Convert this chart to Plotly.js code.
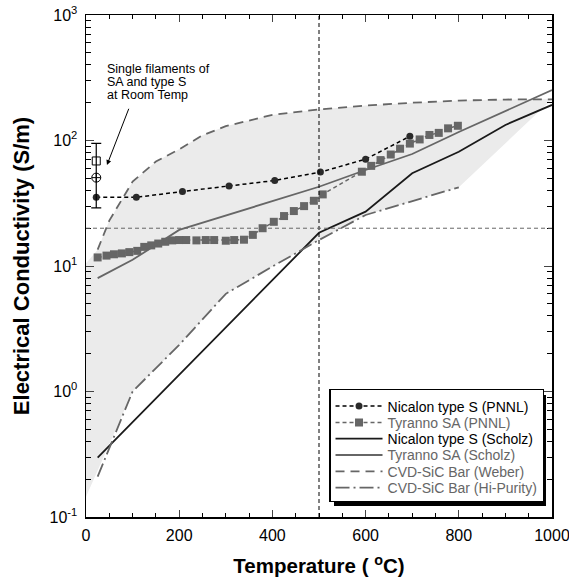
<!DOCTYPE html>
<html><head><meta charset="utf-8">
<script src="https://cdn.plot.ly/plotly-3.0.1.min.js"></script>
<style>html,body{margin:0;padding:0;background:#fff}</style>
</head><body><div id="chart" style="width:569px;height:580px"></div>
<script>
// ---- data (temperature in degC, conductivity in S/m) ----
const T_NIC_PNNL = [22, 108, 207, 307, 405, 503, 600, 695];
const S_NIC_PNNL = [35.3, 35.3, 39.2, 43.4, 48, 56, 71, 108];

const T_TYR_PNNL = [25, 44, 60, 77, 93, 110, 125, 140, 155, 170, 185, 200, 215, 237, 257, 275, 300, 318, 339, 358,
                    379, 403, 425, 446, 468, 489, 508, 592, 612, 632, 654, 674, 695, 716, 737, 757, 777, 798];
const S_TYR_PNNL = [11.7, 12.1, 12.4, 12.6, 12.9, 13.2, 14.2, 14.6, 15.1, 15.6, 16.0, 16.1, 16.1, 16.0, 16.1, 16.1, 15.9, 16.1, 16.2, 17.7,
                    20.0, 22.5, 25.0, 27.4, 30.0, 33.1, 37.2, 56.4, 62.8, 69.8, 77.3, 86, 94.5, 102, 110.7, 115, 125, 131];

const T_NIC_SCH = [25, 500, 600, 700, 800, 900, 1000];
const S_NIC_SCH = [0.297, 18.4, 27.1, 54.8, 81.4, 133, 192];

const T_TYR_SCH = [25, 100, 200, 300, 400, 500, 600, 700, 800, 900, 1000];
const S_TYR_SCH = [8.0, 11.2, 19.4, 25.3, 33, 42.8, 58.2, 78, 117, 172, 252];

const T_WEBER = [25, 50, 100, 150, 200, 250, 300, 400, 500, 600, 700, 800, 900, 1000];
const S_WEBER = [13.5, 23, 47, 68, 85, 110, 130, 160, 177, 190, 200, 208, 212, 213];

const T_HIPUR = [25, 100, 200, 300, 400, 500, 600, 800];
const S_HIPUR = [0.21, 1.0, 2.35, 6.0, 9.9, 16.1, 25.5, 42.4];

// shaded band: left edge at T=0 (bottom, top)
const SHADE_EDGE_T = [0, 0];
const SHADE_EDGE_S = [0.145, 10.5];

// single filaments at room temperature
const SF_T = [22, 22];
const SF_S = [68.7, 50.6];           // open square (SA), crossed circle (type S)
const SF_ERR_TOP = 95, SF_ERR_BOT = 29;

const NOTE_LINES = ['Single filaments of', 'SA and type S', 'at Room Temp'];
const NOTE_T = 41;
const NOTE_S = [372, 292, 231];
const ARROW_HEAD = [45, 63.8];     // [T, S]
const ARROW_TAIL = [93, 184];      // [T, S]

const REF_T = 500, REF_S = 20;

const X_TICKS = [0, 200, 400, 600, 800, 1000];
const Y_TICKVALS = [0.1, 1, 10, 100, 1000];
const Y_TICKTEXT = ['10<sup>-1</sup>', '10<sup>0</sup>', '10<sup>1</sup>', '10<sup>2</sup>', '10<sup>3</sup>'];

// ---- build ----
const GRAY = '#666666';
const FONT = 'Liberation Sans, Arial, sans-serif';

const shadeT = [SHADE_EDGE_T[0]].concat(T_HIPUR.slice(1), T_WEBER.slice().reverse(), [SHADE_EDGE_T[1]]);
const shadeS = [SHADE_EDGE_S[0]].concat(S_HIPUR.slice(1), S_WEBER.slice().reverse(), [SHADE_EDGE_S[1]]);

const gspan = s => '<span style="color:' + GRAY + '">' + s + '</span>';

const traces = [
  {x: shadeT, y: shadeS, mode: 'lines', fill: 'toself', fillcolor: '#ebebeb',
   line: {width: 0, color: 'rgba(0,0,0,0)'}, showlegend: false, hoverinfo: 'skip'},
  {x: T_NIC_PNNL, y: S_NIC_PNNL, name: 'Nicalon type S (PNNL)', mode: 'lines+markers',
   line: {color: '#000', dash: '4px,3px', width: 1.5},
   marker: {symbol: 'circle', size: 7, color: '#2a2a2a'}},
  {x: T_TYR_PNNL, y: S_TYR_PNNL, name: gspan('Tyranno SA (PNNL)'), mode: 'lines+markers',
   line: {color: GRAY, dash: '4px,3px', width: 1.5},
   marker: {symbol: 'square', size: 8, color: GRAY}},
  {x: T_NIC_SCH, y: S_NIC_SCH, name: 'Nicalon type S (Scholz)', mode: 'lines',
   line: {color: '#1a1a1a', width: 1.8}},
  {x: T_TYR_SCH, y: S_TYR_SCH, name: gspan('Tyranno SA (Scholz)'), mode: 'lines',
   line: {color: GRAY, width: 1.8}},
  {x: T_WEBER, y: S_WEBER, name: gspan('CVD-SiC Bar (Weber)'), mode: 'lines',
   line: {color: GRAY, width: 1.8, dash: '9px,6px'}},
  {x: T_HIPUR, y: S_HIPUR, name: gspan('CVD-SiC Bar (Hi-Purity)'), mode: 'lines',
   line: {color: GRAY, width: 1.8, dash: '14px,4px,2px,4px'}},
  {x: [SF_T[0]], y: [SF_S[0]], mode: 'markers', showlegend: false,
   marker: {symbol: 'square-open', size: 8, color: '#000', line: {width: 1}}},
  {x: [SF_T[1]], y: [SF_S[1]], mode: 'markers', showlegend: false,
   marker: {symbol: 'circle-cross-open', size: 9, color: '#000', line: {width: 1}},
   error_y: {type: 'data', symmetric: false, array: [SF_ERR_TOP - SF_S[1]], arrayminus: [SF_S[1] - SF_ERR_BOT],
             color: '#000', thickness: 1.2, width: 5}}
];

const annotations = NOTE_LINES.map((t, i) => ({
  x: NOTE_T, y: Math.log10(NOTE_S[i]), xref: 'x', yref: 'y', text: t, showarrow: false,
  xanchor: 'left', yanchor: 'middle', font: {family: FONT, size: 12.5, color: '#000'}
}));
annotations.push({x: ARROW_HEAD[0], y: Math.log10(ARROW_HEAD[1]), xref: 'x', yref: 'y',
  ax: ARROW_TAIL[0], ay: Math.log10(ARROW_TAIL[1]), axref: 'x', ayref: 'y',
  text: '', showarrow: true, arrowhead: 2, arrowsize: 1, arrowwidth: 1, arrowcolor: '#000'});

const layout = {
  width: 569, height: 580,
  margin: {l: 86, r: 17, t: 15, b: 63},
  paper_bgcolor: '#fff', plot_bgcolor: '#fff',
  font: {family: FONT, size: 16, color: '#000'},
  showlegend: true,
  legend: {x: 0.5215, y: 0.255, xanchor: 'left', yanchor: 'top', bgcolor: '#fff',
           bordercolor: '#000', borderwidth: 1.5, font: {family: FONT, size: 14, color: '#000'},
           itemwidth: 47, tracegroupgap: 0},
  xaxis: {range: [0, 1000], tickvals: X_TICKS, ticks: 'inside', ticklen: 7, tickwidth: 1,
          showline: true, linecolor: '#000', linewidth: 1.5, mirror: 'ticks', showgrid: false, zeroline: false,
          minor: {ticks: 'inside', dtick: 50, ticklen: 4, tickcolor: '#000', showgrid: false},
          tickfont: {size: 16}, ticklabelstandoff: 3, ticklabeloverflow: 'allow',
          title: {text: '<b>Temperature ( <sup>o</sup>C)</b>', font: {size: 20.5}, standoff: 16}},
  yaxis: {type: 'log', range: [-1, 3], tickvals: Y_TICKVALS, ticktext: Y_TICKTEXT, ticks: 'inside', ticklen: 8, tickwidth: 1,
          showline: true, linecolor: '#000', linewidth: 1.5, mirror: 'ticks', showgrid: false, zeroline: false,
          minor: {ticks: 'inside', dtick: 'D1', ticklen: 5, tickcolor: '#000', showgrid: false},
          tickfont: {size: 16}, ticklabelstandoff: 4, ticklabeloverflow: 'allow',
          title: {text: '<b>Electrical Conductivity (S/m)</b>', font: {size: 22}, standoff: 14}},
  shapes: [
    {type: 'line', xref: 'x', yref: 'paper', x0: REF_T, x1: REF_T, y0: 0, y1: 1,
     line: {color: '#000', width: 1, dash: '4px,3px'}},
    {type: 'line', xref: 'paper', yref: 'y', x0: 0, x1: 1, y0: REF_S, y1: REF_S,
     line: {color: GRAY, width: 1, dash: '4px,3px'}},
    // drop shadow of the legend box (decoration)
    {type: 'rect', xref: 'paper', yref: 'paper', layer: 'above',
     x0: 0.5322, x1: 0.9871, y0: 0.0219, y1: 0.243,
     fillcolor: '#000', line: {width: 0}}
  ],
  annotations: annotations
};

const ROW_STEP = 16.3;   // legend row spacing of the reference

Plotly.newPlot('chart', traces, layout, {displayModeBar: false, staticPlot: true}).then(gd => {
  const lg = gd.querySelector('.legend');
  const bg = lg && lg.querySelector('rect.bg');
  if (!bg) return;
  const items = Array.from(lg.querySelectorAll('g.traces'));
  const parse = el => {
    const m = /translate\(\s*([-\d.e]+)[ ,]+([-\d.e]+)/.exec(el.getAttribute('transform') || '');
    return m ? [parseFloat(m[1]), parseFloat(m[2])] : [0, 0];
  };
  if (items.length > 1) {
    const p0 = parse(items[0]), p1 = parse(items[1]);
    const oldStep = p1[1] - p0[1];
    items.forEach((it, i) => {
      const p = parse(it);
      it.setAttribute('transform', 'translate(' + p[0] + ',' + (p0[1] + i * ROW_STEP) + ')');
    });
    const h = parseFloat(bg.getAttribute('height'));
    const newH = h - (items.length - 1) * (oldStep - ROW_STEP) - 3;
    bg.setAttribute('height', newH);
    lg.querySelectorAll('clipPath rect').forEach(r => r.setAttribute('height', newH));
  }
});
</script></body></html>
